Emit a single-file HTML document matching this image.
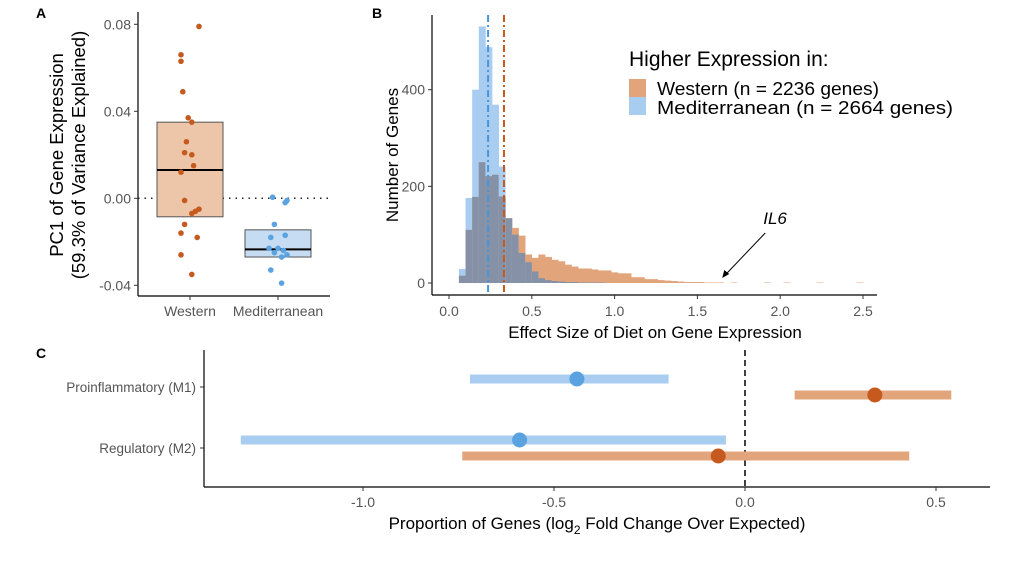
<!DOCTYPE html>
<html><head><meta charset="utf-8"><style>
body{margin:0;background:#fff;}
svg{font-family:"Liberation Sans",sans-serif;}
</style></head><body>
<svg id="fig" width="1024" height="566" viewBox="0 0 1024 566" xmlns="http://www.w3.org/2000/svg">
<rect width="1024" height="566" fill="#fff"/>
<g id="pa"></g>
<g id="pb"></g>
<g id="pc"></g>
</svg>
<script>
// ---------- Panel A data ----------
const aGroups = ["Western","Mediterranean"];
const aWestPts = [0.079,0.066,0.063,0.049,0.037,0.035,0.026,0.021,0.020,0.015,0.012,-0.001,-0.005,-0.006,-0.007,-0.012,-0.016,-0.018,-0.026,-0.035];
const aWestJit = [0.1,-0.1,-0.1,-0.08,-0.02,0.02,-0.04,-0.06,0.02,0.04,-0.1,-0.06,0.1,0.06,0.02,-0.06,-0.1,0.08,-0.1,0.02];
const aMedPts = [0.0005,-0.001,-0.002,-0.012,-0.017,-0.018,-0.023,-0.023,-0.024,-0.025,-0.026,-0.027,-0.033,-0.039];
const aMedJit = [-0.06,0.1,0.08,-0.04,0.08,-0.08,-0.1,0.0,0.06,-0.04,0.1,0.04,-0.08,0.04];
const aWestBox = [-0.0085,0.013,0.035];
const aMedBox = [-0.027,-0.0235,-0.0145];
const aTicks = [-0.04,0.00,0.04,0.08];
const aTickLabels = ["-0.04","0.00","0.04","0.08"];

// ---------- Panel B data ----------
const bBinStart = 0.06, bBinWidth = 0.04;
const bBlue = [29,176,400,531,488,369,241,134,100,62,43,24,10,6,4,3,2,2,1,1,1,1,0,0,0,0,0,0,0,0,0,0,0,0,0,0,0,0,0,0,0,0,0,0,0,0,0,0,0,0,0,0,0,0,0,0,0,0,0,0,0];
const bOrange = [15,110,178,250,221,224,179,134,114,98,59,52,59,54,48,45,38,34,30,30,28,26,26,22,20,20,12,12,8,8,6,5,4,3,2,2,2,1,1,1,0,1,0,0,0,0,1,0,0,1,0,0,0,0,1,0,0,0,0,0,1];
const bXTicks = [0,0.5,1.0,1.5,2.0,2.5];
const bXLabels = ["0.0","0.5","1.0","1.5","2.0","2.5"];
const bYTicks = [0,200,400];
const bBlueMean = 0.236, bOrangeMean = 0.332;
const bIL6 = 1.65;

// ---------- Panel C data ----------
const cCats = ["Proinflammatory (M1)","Regulatory (M2)"];
const cBlueEst = [-0.44,-0.59];
const cBlueLo = [-0.72,-1.32];
const cBlueHi = [-0.20,-0.05];
const cOrangeEst = [0.34,-0.07];
const cOrangeLo = [0.13,-0.74];
const cOrangeHi = [0.54,0.43];
const cTicks = [-1.0,-0.5,0.0,0.5];
const cTickLabels = ["-1.0","-0.5","0.0","0.5"];

const NS="http://www.w3.org/2000/svg";
function mk(parent,tag,attrs,text){const e=document.createElementNS(NS,tag);for(const k in attrs)e.setAttribute(k,attrs[k]);if(text!==undefined)e.textContent=text;parent.appendChild(e);return e;}
const ORANGE="#c65a1e", BLUE="#5aa2e0";

// ===== Panel A =====
(function(){
const g=document.getElementById('pa');
const ay=v=>198.3-v*(87/0.04);
const ax=(i,j)=> (i===0?190:278)+j*90;
let t=mk(g,'text',{x:36,y:18,'font-size':14,'font-weight':'bold'},'A');

let l=mk(g,'line',{x1:138,y1:12,x2:138,y2:296,stroke:'#000','stroke-width':1.2});

l=mk(g,'line',{x1:138,y1:296,x2:330,y2:296,stroke:'#000','stroke-width':1.2});

aTicks.forEach((v,i)=>{
 let tk=mk(g,'line',{x1:134,y1:ay(v),x2:138,y2:ay(v),stroke:'#333'});
 
 let tl=mk(g,'text',{x:131,y:ay(v)+5,'font-size':14,fill:'#555','text-anchor':'end'},aTickLabels[i]);
 
});
let zl=mk(g,'line',{x1:138,y1:ay(0),x2:330,y2:ay(0),stroke:'#222','stroke-width':1.5,'stroke-dasharray':'1.5,5'});

const boxes=[[aWestBox,'#edc6aa',157,223],[aMedBox,'#c5dcf3',245,311]];
boxes.forEach((b,i)=>{
 let r=mk(g,'rect',{x:b[2],y:ay(b[0][2]),width:b[3]-b[2],height:ay(b[0][0])-ay(b[0][2]),fill:b[1],stroke:'#555','stroke-width':1});
 
 let m=mk(g,'line',{x1:b[2],y1:ay(b[0][1]),x2:b[3],y2:ay(b[0][1]),stroke:'#000','stroke-width':2});
 
});
aWestPts.forEach((v,i)=>{let c=mk(g,'circle',{cx:ax(0,aWestJit[i]),cy:ay(v),r:2.8,fill:ORANGE});
 });
aMedPts.forEach((v,i)=>{let c=mk(g,'circle',{cx:ax(1,aMedJit[i]),cy:ay(v),r:2.8,fill:BLUE});
 });
aGroups.forEach((n,i)=>{
 let tk=mk(g,'line',{x1:ax(i,0),y1:296,x2:ax(i,0),y2:300,stroke:'#333'});
 
 let tl=mk(g,'text',{x:ax(i,0),y:316,'font-size':14,fill:'#555','text-anchor':'middle'},n);
 
});
let yt=mk(g,'text',{transform:'translate(63,155) rotate(-90)','font-size':18.5,'text-anchor':'middle'},'PC1 of Gene Expression');

yt=mk(g,'text',{transform:'translate(85,155) rotate(-90)','font-size':18.5,'text-anchor':'middle'},'(59.3% of Variance Explained)');

})();

// ===== Panel B =====
(function(){
const g=document.getElementById('pb');
const bx=v=>449+v*165.6;
const by=v=>283-v*(193.3/400);
let t=mk(g,'text',{x:372,y:18,'font-size':14,'font-weight':'bold'},'B');

bBlue.forEach((v,i)=>{
 const x0=bx(bBinStart+i*bBinWidth),w=bx(bBinStart+(i+1)*bBinWidth)-x0;
 const o=bOrange[i];
 if(v>0){let r=mk(g,'rect',{x:x0,y:by(v),width:w+0.3,height:by(0)-by(v),fill:'#a9cdf1'});
  }
 if(o>0){let r=mk(g,'rect',{x:x0,y:by(o),width:w+0.3,height:by(0)-by(o),fill:'#e2a47b'});
  }
 const m=Math.min(v,o);
 if(m>0){let r=mk(g,'rect',{x:x0,y:by(m),width:w+0.3,height:by(0)-by(m),fill:'#8491a6'});
  }
});
let d=mk(g,'line',{x1:bx(bBlueMean),y1:15,x2:bx(bBlueMean),y2:295,stroke:'#4a94d8','stroke-width':2,'stroke-dasharray':'7,3,2,3'});

d=mk(g,'line',{x1:bx(bOrangeMean),y1:15,x2:bx(bOrangeMean),y2:295,stroke:ORANGE,'stroke-width':2,'stroke-dasharray':'7,3,2,3'});

let l=mk(g,'line',{x1:432,y1:15,x2:432,y2:295,stroke:'#000','stroke-width':1.2});

l=mk(g,'line',{x1:432,y1:295,x2:877,y2:295,stroke:'#000','stroke-width':1.2});

bYTicks.forEach(v=>{
 let tk=mk(g,'line',{x1:428,y1:by(v),x2:432,y2:by(v),stroke:'#333'});
 
 let tl=mk(g,'text',{x:425,y:by(v)+5,'font-size':14,fill:'#555','text-anchor':'end'},String(v));
 
});
bXTicks.forEach((v,i)=>{
 let tk=mk(g,'line',{x1:bx(v),y1:295,x2:bx(v),y2:299,stroke:'#333'});
 
 let tl=mk(g,'text',{x:bx(v),y:316,'font-size':14,fill:'#555','text-anchor':'middle'},bXLabels[i]);
 
});
let xt=mk(g,'text',{x:655,y:338,'font-size':17,'text-anchor':'middle'},'Effect Size of Diet on Gene Expression');

let yt=mk(g,'text',{transform:'translate(398,155) rotate(-90)','font-size':17,'text-anchor':'middle'},'Number of Genes');

let lg=mk(g,'text',{x:629,y:66,'font-size':21},'Higher Expression in:');

let s=mk(g,'rect',{x:629,y:79,width:17,height:18,fill:'#e2a47b'});

s=mk(g,'rect',{x:629,y:97,width:17,height:18,fill:'#a9cdf1'});

let le=mk(g,'text',{x:657,y:95,'font-size':18,textLength:222,lengthAdjust:'spacingAndGlyphs'},'Western (n = 2236 genes)');

le=mk(g,'text',{x:657,y:114,'font-size':18,textLength:296,lengthAdjust:'spacingAndGlyphs'},'Mediterranean (n = 2664 genes)');

const tipX=bx(bIL6);
let an=mk(g,'text',{x:tipX+41,y:224,'font-size':17,'font-style':'italic'},'IL6');

let ar=mk(g,'line',{x1:tipX+43,y1:233,x2:tipX+2,y2:276,stroke:'#000','stroke-width':1});

let ah=mk(g,'polygon',{points:`${tipX},278 ${tipX+2},270 ${tipX+7},274`,fill:'#000'});

})();

// ===== Panel C =====
(function(){
const g=document.getElementById('pc');
const cx=v=>745+v*382;
const rowY=[387,448];
let t=mk(g,'text',{x:36,y:358,'font-size':14,'font-weight':'bold'},'C');

let z=mk(g,'line',{x1:cx(0),y1:350,x2:cx(0),y2:487,stroke:'#000','stroke-width':1.5,'stroke-dasharray':'6,4'});

cCats.forEach((c,i)=>{
 const yb=rowY[i]-8, yo=rowY[i]+8;
 let r=mk(g,'line',{x1:cx(cBlueLo[i]),y1:yb,x2:cx(cBlueHi[i]),y2:yb,stroke:'#a9cdf1','stroke-width':9});
 
 let p=mk(g,'circle',{cx:cx(cBlueEst[i]),cy:yb,r:7.5,fill:BLUE});
 
 r=mk(g,'line',{x1:cx(cOrangeLo[i]),y1:yo,x2:cx(cOrangeHi[i]),y2:yo,stroke:'#e2a47b','stroke-width':9});
 
 p=mk(g,'circle',{cx:cx(cOrangeEst[i]),cy:yo,r:7.5,fill:ORANGE});
 
 let tk=mk(g,'line',{x1:200,y1:rowY[i],x2:204,y2:rowY[i],stroke:'#333'});
 
 let tl=mk(g,'text',{x:196,y:rowY[i]+5,'font-size':13.5,fill:'#555','text-anchor':'end'},c);
 
});
let l=mk(g,'line',{x1:204,y1:350,x2:204,y2:487,stroke:'#000','stroke-width':1.2});

l=mk(g,'line',{x1:204,y1:487,x2:990,y2:487,stroke:'#000','stroke-width':1.2});

cTicks.forEach((v,i)=>{
 let tk=mk(g,'line',{x1:cx(v),y1:487,x2:cx(v),y2:491,stroke:'#333'});
 
 let tl=mk(g,'text',{x:cx(v),y:507,'font-size':14,fill:'#555','text-anchor':'middle'},cTickLabels[i]);
 
});
let xt=mk(g,'text',{x:597,y:529,'font-size':17,'text-anchor':'middle'});

mk(xt,'tspan',{},'Proportion of Genes (log');
mk(xt,'tspan',{'font-size':12,dy:5},'2');
mk(xt,'tspan',{dy:-5},' Fold Change Over Expected)');
})();
</script>
</body></html>
